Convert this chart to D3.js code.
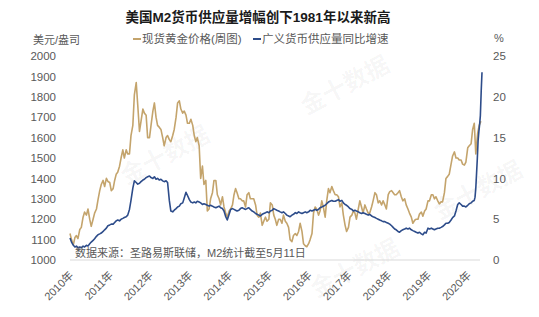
<!DOCTYPE html>
<html><head><meta charset="utf-8">
<script src="https://cdn.jsdelivr.net/npm/d3@7"></script>
<style>
body{margin:0;background:#fff}
svg{display:block}
text{font-family:"Liberation Sans","Noto Sans CJK SC",sans-serif}
</style>
</head><body>
<svg id="c" width="539" height="317"></svg>
<script>
const title = "美国M2货币供应量增幅创下1981年以来新高";
const leftUnit = "美元/盎司";
const rightUnit = "%";
const seriesNames = ["现货黄金价格(周图)", "广义货币供应量同比增速"];
const years = [2010,2011,2012,2013,2014,2015,2016,2017,2018,2019,2020];
const yearLabels = ["2010年","2011年","2012年","2013年","2014年","2015年","2016年","2017年","2018年","2019年","2020年"];
const leftTicks = [1000,1100,1200,1300,1400,1500,1600,1700,1800,1900,2000];
const rightTicks = [0,5,10,15,20,25];
const sourceNote = "数据来源：圣路易斯联储，M2统计截至5月11日";
const watermark = "金十数据";

// spot gold, semi-monthly (1st & 15th), Jan 2010 - May 2020 (USD/oz)
const goldValues = [
1130,1100,1075,1110,1120,1105,1150,1160,1210,1235,1220,1250,1200,1165,1200,1230,1250,1295,1340,1370,1390,1360,1400,1385,
1380,1340,1350,1390,1420,1430,1460,1500,1540,1500,1540,1520,1520,1610,1660,1810,1870,1760,1630,1680,1740,1720,1710,1600,
1600,1660,1730,1770,1700,1660,1650,1640,1600,1560,1600,1610,1590,1580,1610,1640,1700,1770,1780,1740,1720,1730,1710,1670,
1670,1690,1660,1610,1580,1600,1560,1400,1460,1370,1390,1240,1250,1300,1330,1390,1390,1320,1300,1270,1310,1260,1230,1210,
1240,1250,1270,1320,1350,1330,1300,1300,1290,1290,1260,1320,1330,1300,1300,1300,1270,1220,1210,1230,1170,1190,1210,1190,
1200,1280,1270,1220,1200,1170,1200,1200,1180,1220,1190,1180,1160,1100,1090,1120,1130,1120,1140,1180,1140,1080,1070,1065,
1080,1100,1130,1230,1260,1250,1220,1240,1290,1260,1210,1290,1350,1330,1360,1340,1320,1320,1310,1260,1280,1220,1170,1140,
1160,1210,1220,1240,1230,1200,1250,1290,1260,1230,1270,1250,1230,1230,1260,1290,1330,1320,1280,1290,1270,1290,1270,1250,
1320,1335,1340,1330,1320,1320,1330,1340,1310,1290,1300,1270,1250,1230,1210,1180,1195,1200,1200,1225,1235,1215,1240,1250,
1290,1290,1320,1320,1300,1310,1290,1275,1285,1285,1330,1400,1410,1420,1470,1510,1530,1500,1500,1490,1490,1470,1465,1480,
1550,1560,1570,1640,1670,1520,1620,1660,1680
];

// M2 YoY growth %, semi-monthly Jan 2010 - Mar 1 2020
const m2Values = [
2.7,2.2,1.8,1.6,1.7,1.5,1.6,1.5,1.7,1.6,1.8,1.7,2.0,2.2,2.4,2.6,2.9,3.1,3.2,3.3,3.5,3.7,3.9,4.2,
4.3,4.4,4.4,4.6,4.8,4.9,4.8,5.0,5.1,5.2,5.3,5.5,6.2,7.3,8.8,9.7,9.5,9.3,9.4,9.6,9.8,9.9,10.1,10.2,
10.3,10.1,10.0,10.2,9.9,10.0,9.8,9.9,9.7,9.6,9.7,9.5,7.3,6.0,5.9,6.1,6.3,6.5,6.6,6.9,7.0,7.6,8.3,7.9,
7.4,7.1,7.0,7.1,7.0,7.2,7.1,7.0,6.8,6.9,6.8,6.7,6.6,6.7,6.6,6.5,6.4,6.5,6.6,6.4,6.3,6.0,5.3,4.9,
5.6,6.2,6.3,6.2,6.1,6.0,6.1,6.3,6.4,6.3,6.2,6.3,6.4,6.2,6.0,5.9,5.7,5.6,5.5,5.4,5.6,5.7,5.8,5.9,
5.8,6.0,6.1,6.3,6.2,6.1,6.0,5.9,5.8,5.9,5.7,5.5,5.4,5.3,5.5,5.6,5.8,5.7,5.9,5.8,5.7,5.8,5.9,5.8,
5.9,6.1,6.0,6.1,6.2,6.1,6.2,6.4,6.5,6.6,6.7,6.9,7.1,7.2,7.3,7.2,7.2,7.3,7.4,7.2,7.3,7.0,6.8,6.7,
6.5,6.3,6.2,6.0,6.1,6.0,5.9,5.8,5.7,5.8,5.7,5.6,5.5,5.6,5.4,5.3,5.2,5.1,5.0,4.9,4.8,4.7,4.7,4.6,
4.5,4.4,4.2,4.0,3.8,3.7,3.5,3.4,3.6,3.7,3.8,3.9,3.8,3.9,3.7,3.6,3.5,3.4,3.3,3.4,3.2,3.1,3.4,3.3,
3.9,3.8,3.9,3.8,3.7,3.8,3.9,3.9,4.0,4.1,4.3,4.5,4.5,4.6,4.9,5.2,5.4,6.0,6.8,7.0,6.8,6.6,6.6,6.5,
6.7,6.9,7.0,7.2,7.3
];
// weekly tail of the 2020 surge
const m2TailDates = ["2020-03-08","2020-03-15","2020-03-22","2020-03-29","2020-04-05","2020-04-12","2020-04-19","2020-04-26","2020-05-04","2020-05-11"];
const m2TailValues = [7.7,8.8,10.6,12.4,14.6,15.7,16.6,17.7,20.8,23.0];

const goldColor = "#C4A46C";
const m2Color = "#2D4C8A";
const textColor = "#595959";
const fontFam = '"Liberation Sans","Noto Sans CJK SC",sans-serif';

const semi = i => new Date(2010 + Math.floor(i/24), Math.floor((i%24)/2), (i%2) ? 15 : 1);
const goldData = goldValues.map((v,i) => ({d: semi(i), v}));
const parse = d3.timeParse("%Y-%m-%d");
const m2Data = m2Values.map((v,i) => ({d: semi(i), v}))
  .concat(m2TailDates.map((s,i) => ({d: parse(s), v: m2TailValues[i]})));

const svg = d3.select("#c");

// faint watermarks
const wm = [[165,155],[345,85],[355,268],[478,190]];
svg.append("g").selectAll("text").data(wm).join("text")
  .attr("transform", d => `translate(${d[0]},${d[1]}) rotate(-28)`)
  .attr("text-anchor","middle").attr("dy","0.35em")
  .style("font-size","24px").style("font-weight","bold")
  .attr("fill","#000").attr("fill-opacity",0.045)
  .text(watermark);

const x = d3.scaleTime().domain([new Date(2010,0,1), new Date(2020,4,11)]).range([70, 482]);
const yL = d3.scaleLinear().domain([1000,2000]).range([260,56]);
const yR = d3.scaleLinear().domain([0,25]).range([260,56]);

// baseline
svg.append("line").attr("x1",70).attr("x2",480).attr("y1",yL(1000)).attr("y2",yL(1000))
  .attr("stroke","#d9d9d9").attr("stroke-width",1);

// left axis
const gl = svg.append("g").attr("transform","translate(56,0)")
  .call(d3.axisLeft(yL).tickValues(leftTicks).tickFormat(d3.format("d")).tickSize(0).tickPadding(0));
gl.select(".domain").remove();
gl.selectAll("text").attr("fill",textColor).style("font-size","11.5px").style("font-family",fontFam);

// right axis
const gr = svg.append("g").attr("transform","translate(493,0)")
  .call(d3.axisRight(yR).tickValues(rightTicks).tickFormat(d3.format("d")).tickSize(0).tickPadding(0));
gr.select(".domain").remove();
gr.selectAll("text").attr("fill",textColor).style("font-size","11.5px").style("font-family",fontFam);

// x labels
svg.append("g").selectAll("text").data(years).join("text")
  .attr("transform", (d) => `translate(${x(new Date(d,0,1))+4},276) rotate(-45)`)
  .attr("text-anchor","end")
  .attr("fill",textColor).style("font-size","11px")
  .text((d,i) => yearLabels[i]);

// lines
const lineG = d3.line().x(d => x(d.d)).y(d => yL(d.v));
const lineM = d3.line().x(d => x(d.d)).y(d => yR(d.v));
svg.append("path").datum(goldData).attr("d",lineG).attr("fill","none")
  .attr("stroke",goldColor).attr("stroke-width",1.6).attr("stroke-linejoin","round");
svg.append("path").datum(m2Data).attr("d",lineM).attr("fill","none")
  .attr("stroke",m2Color).attr("stroke-width",1.6).attr("stroke-linejoin","round");

// title
svg.append("text").attr("x",258).attr("y",22).attr("text-anchor","middle")
  .style("font-size","13.5px").style("font-weight","bold").attr("fill","#1a1a1a").text(title);

// unit labels
svg.append("text").attr("x",33).attr("y",44).attr("fill",textColor).style("font-size","11px").text(leftUnit);
svg.append("text").attr("x",494).attr("y",42).attr("fill",textColor).style("font-size","11px").text(rightUnit);

// legend
const leg = [{x:133, c:goldColor, t:seriesNames[0]}, {x:253, c:m2Color, t:seriesNames[1]}];
const lg = svg.append("g").selectAll("g").data(leg).join("g");
lg.append("line").attr("x1",d=>d.x).attr("x2",d=>d.x+8).attr("y1",39).attr("y2",39)
  .attr("stroke",d=>d.c).attr("stroke-width",2);
lg.append("text").attr("x",d=>d.x+9).attr("y",43).attr("fill",textColor)
  .style("font-size","11.5px").text(d=>d.t);

// source note
svg.append("text").attr("x",75).attr("y",257).attr("fill",textColor)
  .style("font-size","11px").text(sourceNote);
</script>
</body></html>
